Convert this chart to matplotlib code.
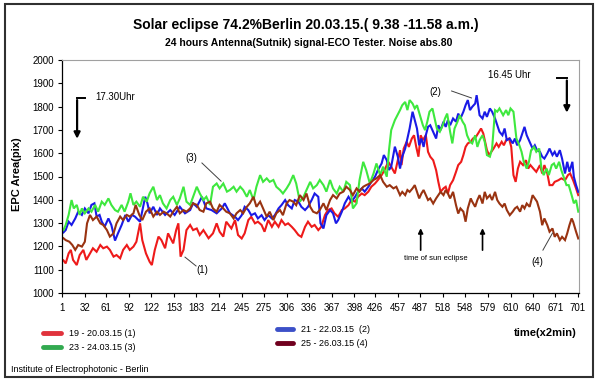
import matplotlib
matplotlib.use('Agg')
import matplotlib.pyplot as plt
from matplotlib.lines import Line2D
from matplotlib.patches import Rectangle

plt.rcParams['font.family'] = ['Liberation Sans', 'DejaVu Sans']

# readings (sample index, EPC area) taken off the original chart
red_pts = [(3, 1140), (6, 1127), (10, 1170), (13, 1185), (16, 1142), (21, 1120), (25, 1163), (30, 1185),
           (34, 1142), (39, 1170), (43, 1192), (48, 1177), (53, 1206), (57, 1192), (62, 1199), (66, 1185),
           (71, 1156), (75, 1163), (80, 1149), (84, 1185), (89, 1206), (93, 1185), (98, 1199), (102, 1220),
           (107, 1299), (110, 1227), (115, 1170), (120, 1134), (123, 1120), (127, 1185), (132, 1242),
           (136, 1227), (141, 1192), (145, 1256), (152, 1213), (156, 1270), (159, 1299), (162, 1156),
           (166, 1185), (170, 1270), (175, 1292), (179, 1270), (184, 1277), (188, 1249), (193, 1270),
           (200, 1235), (206, 1256), (211, 1299), (215, 1263), (220, 1242), (224, 1306), (231, 1277),
           (236, 1313), (240, 1249), (245, 1234), (249, 1256), (254, 1313), (258, 1327), (263, 1299),
           (267, 1306), (272, 1292), (276, 1263), (281, 1313), (286, 1284), (290, 1306), (295, 1284),
           (299, 1313), (304, 1292), (308, 1299), (313, 1284), (317, 1270), (322, 1249), (326, 1241),
           (331, 1284), (335, 1306), (340, 1284), (344, 1292), (349, 1270), (353, 1284), (358, 1334),
           (362, 1356), (367, 1363), (371, 1342), (376, 1327), (381, 1356), (385, 1363), (390, 1377),
           (394, 1399), (399, 1392), (403, 1413), (408, 1427), (412, 1420), (417, 1435), (421, 1456),
           (426, 1470), (430, 1485), (435, 1506), (439, 1528), (444, 1563), (448, 1542), (453, 1513),
           (457, 1570), (460, 1613), (462, 1549), (465, 1620), (469, 1649), (472, 1627), (476, 1663),
           (479, 1677), (482, 1627), (485, 1585), (488, 1677), (491, 1656), (495, 1677), (498, 1606),
           (501, 1585), (505, 1570), (509, 1527), (512, 1477), (515, 1434), (519, 1449), (522, 1456),
           (525, 1427), (528, 1463), (532, 1484), (536, 1520), (539, 1549), (543, 1563), (546, 1592),
           (549, 1627), (552, 1642), (556, 1649), (559, 1663), (563, 1670), (566, 1685), (570, 1706),
           (573, 1685), (576, 1642), (578, 1613), (581, 1592), (584, 1606), (587, 1620), (591, 1642),
           (594, 1627), (598, 1649), (601, 1634), (604, 1656), (608, 1663), (611, 1627), (614, 1506),
           (617, 1477), (620, 1534), (623, 1563), (627, 1549), (631, 1570), (634, 1534), (637, 1549),
           (641, 1534), (645, 1520), (650, 1549), (653, 1513), (656, 1549), (660, 1513), (663, 1463),
           (667, 1463), (670, 1477), (675, 1484), (679, 1492), (684, 1484), (688, 1506), (691, 1513),
           (695, 1484), (699, 1449), (702, 1420)]

blue_pts = [(3, 1260), (6, 1270), (10, 1306), (14, 1292), (19, 1320), (23, 1349), (28, 1335), (32, 1363),
            (37, 1342), (41, 1378), (45, 1385), (48, 1328), (52, 1335), (55, 1306), (59, 1285), (64, 1320),
            (68, 1292), (73, 1225), (77, 1256), (82, 1292), (87, 1335), (91, 1306), (96, 1335), (100, 1328),
            (107, 1306), (114, 1413), (117, 1385), (120, 1342), (125, 1370), (130, 1335), (134, 1363),
            (141, 1335), (148, 1356), (154, 1335), (161, 1370), (168, 1342), (175, 1356), (179, 1385),
            (184, 1370), (191, 1413), (197, 1363), (204, 1356), (211, 1342), (218, 1363), (222, 1385),
            (229, 1342), (236, 1327), (240, 1313), (245, 1334), (249, 1370), (254, 1356), (258, 1334),
            (263, 1342), (267, 1320), (272, 1334), (276, 1313), (281, 1334), (286, 1320), (290, 1334),
            (295, 1363), (299, 1377), (304, 1399), (308, 1377), (313, 1363), (317, 1399), (322, 1392),
            (326, 1370), (331, 1356), (335, 1370), (340, 1399), (344, 1427), (349, 1413), (352, 1299),
            (356, 1277), (360, 1334), (365, 1356), (369, 1342), (373, 1299), (376, 1313), (381, 1349),
            (385, 1385), (390, 1413), (394, 1392), (399, 1413), (403, 1435), (408, 1449), (412, 1435),
            (417, 1456), (421, 1477), (426, 1499), (430, 1528), (435, 1556), (438, 1592), (442, 1570),
            (445, 1528), (448, 1542), (453, 1628), (457, 1585), (460, 1534), (463, 1585), (467, 1620),
            (470, 1663), (473, 1706), (477, 1778), (480, 1742), (483, 1706), (486, 1634), (489, 1663),
            (492, 1627), (495, 1677), (498, 1713), (501, 1720), (505, 1692), (509, 1663), (512, 1720),
            (515, 1699), (519, 1735), (522, 1713), (525, 1742), (528, 1720), (532, 1749), (536, 1735),
            (539, 1770), (542, 1749), (546, 1778), (549, 1806), (552, 1828), (555, 1785), (558, 1799),
            (562, 1813), (564, 1849), (566, 1806), (568, 1763), (572, 1749), (575, 1778), (578, 1756),
            (582, 1792), (585, 1778), (589, 1749), (592, 1720), (595, 1692), (599, 1677), (602, 1706),
            (605, 1656), (609, 1663), (613, 1642), (616, 1663), (619, 1634), (623, 1656), (626, 1685),
            (629, 1713), (632, 1677), (636, 1649), (640, 1620), (643, 1634), (646, 1613), (650, 1606),
            (653, 1585), (656, 1577), (660, 1599), (663, 1620), (667, 1592), (670, 1606), (673, 1585),
            (677, 1613), (680, 1577), (684, 1513), (687, 1563), (690, 1520), (694, 1563), (696, 1499),
            (699, 1463), (702, 1434)]

green_pts = [(3, 1270), (6, 1292), (10, 1335), (14, 1399), (17, 1363), (21, 1378), (25, 1335), (28, 1363),
             (32, 1342), (37, 1363), (41, 1349), (46, 1378), (50, 1349), (55, 1392), (59, 1378), (64, 1406),
             (68, 1378), (73, 1356), (77, 1349), (82, 1378), (86, 1349), (91, 1392), (94, 1428), (98, 1378),
             (102, 1392), (107, 1370), (111, 1413), (116, 1392), (120, 1428), (125, 1456), (130, 1399),
             (134, 1420), (138, 1385), (143, 1363), (148, 1399), (152, 1413), (157, 1378), (161, 1406),
             (166, 1456), (170, 1392), (175, 1378), (179, 1413), (184, 1456), (188, 1428), (193, 1399),
             (197, 1413), (202, 1378), (206, 1456), (211, 1470), (215, 1449), (220, 1470), (225, 1435),
             (229, 1442), (234, 1456), (238, 1435), (243, 1456), (247, 1442), (252, 1413), (256, 1442),
             (261, 1399), (265, 1456), (270, 1506), (274, 1477), (279, 1492), (283, 1477), (288, 1485),
             (292, 1456), (297, 1442), (301, 1427), (306, 1449), (310, 1470), (315, 1506), (319, 1470),
             (324, 1392), (329, 1413), (333, 1442), (338, 1477), (342, 1449), (347, 1463), (351, 1485),
             (356, 1463), (360, 1435), (365, 1485), (369, 1449), (374, 1427), (378, 1456), (383, 1435),
             (387, 1477), (392, 1463), (396, 1363), (401, 1385), (405, 1485), (410, 1563), (414, 1528),
             (419, 1470), (424, 1513), (428, 1556), (433, 1506), (437, 1542), (442, 1499), (445, 1613),
             (448, 1699), (453, 1742), (460, 1785), (463, 1806), (467, 1820), (470, 1785), (473, 1828),
             (477, 1813), (480, 1792), (483, 1806), (487, 1763), (491, 1720), (494, 1699), (497, 1735),
             (500, 1778), (504, 1792), (507, 1749), (510, 1706), (514, 1692), (518, 1720), (521, 1749),
             (524, 1770), (528, 1692), (531, 1642), (534, 1706), (538, 1735), (541, 1763), (545, 1735),
             (548, 1720), (551, 1677), (555, 1649), (558, 1642), (562, 1677), (565, 1627), (568, 1656),
             (572, 1677), (575, 1649), (578, 1592), (582, 1585), (585, 1620), (589, 1785), (592, 1778),
             (595, 1792), (600, 1763), (604, 1785), (607, 1763), (610, 1792), (614, 1778), (616, 1720),
             (618, 1663), (622, 1634), (625, 1606), (628, 1563), (632, 1534), (635, 1563), (638, 1613),
             (642, 1627), (645, 1606), (649, 1620), (652, 1534), (655, 1506), (659, 1534), (662, 1506),
             (666, 1549), (669, 1556), (672, 1534), (676, 1563), (679, 1527), (682, 1499), (686, 1463),
             (689, 1463), (693, 1420), (696, 1385), (699, 1399), (702, 1349)]

brown_pts = [(3, 1235), (6, 1227), (11, 1220), (15, 1206), (19, 1185), (23, 1206), (28, 1199), (32, 1220),
             (35, 1299), (39, 1335), (43, 1313), (48, 1328), (53, 1299), (57, 1292), (62, 1270), (66, 1242),
             (71, 1256), (75, 1299), (80, 1328), (84, 1313), (89, 1335), (93, 1328), (98, 1342), (101, 1378),
             (106, 1335), (110, 1313), (115, 1349), (120, 1363), (125, 1328), (130, 1349), (134, 1335),
             (139, 1349), (143, 1342), (148, 1328), (152, 1349), (157, 1370), (161, 1342), (166, 1356),
             (170, 1349), (175, 1363), (179, 1385), (184, 1378), (188, 1356), (193, 1349), (197, 1385),
             (202, 1392), (206, 1363), (211, 1349), (215, 1378), (220, 1363), (224, 1349), (229, 1342),
             (234, 1320), (238, 1342), (243, 1356), (247, 1342), (252, 1370), (256, 1385), (261, 1413),
             (265, 1370), (270, 1392), (274, 1363), (279, 1327), (283, 1349), (288, 1313), (292, 1342),
             (297, 1356), (301, 1334), (306, 1385), (310, 1399), (315, 1392), (319, 1377), (324, 1420),
             (329, 1399), (333, 1427), (338, 1370), (342, 1349), (347, 1342), (351, 1356), (356, 1385),
             (360, 1356), (365, 1399), (369, 1420), (374, 1406), (378, 1427), (383, 1435), (387, 1456),
             (392, 1442), (396, 1420), (401, 1449), (405, 1435), (410, 1456), (414, 1463), (419, 1470),
             (424, 1485), (428, 1492), (433, 1506), (437, 1477), (442, 1456), (446, 1463), (451, 1449),
             (455, 1456), (460, 1420), (463, 1434), (467, 1420), (470, 1442), (473, 1434), (477, 1449),
             (480, 1463), (483, 1434), (486, 1406), (489, 1427), (492, 1442), (495, 1420), (498, 1399),
             (501, 1406), (505, 1384), (509, 1406), (512, 1420), (515, 1434), (519, 1420), (522, 1442),
             (525, 1427), (528, 1406), (532, 1434), (536, 1377), (539, 1341), (542, 1363), (546, 1349),
             (549, 1306), (552, 1363), (556, 1406), (558, 1392), (562, 1370), (565, 1399), (568, 1420),
             (572, 1384), (575, 1434), (578, 1406), (582, 1420), (585, 1399), (589, 1434), (592, 1399),
             (595, 1384), (599, 1370), (602, 1384), (605, 1356), (609, 1334), (613, 1349), (616, 1363),
             (619, 1370), (623, 1349), (626, 1377), (629, 1363), (632, 1384), (636, 1370), (640, 1420),
             (643, 1406), (646, 1392), (650, 1349), (653, 1291), (656, 1320), (660, 1291), (663, 1263),
             (667, 1277), (670, 1241), (673, 1256), (677, 1227), (680, 1241), (684, 1227), (687, 1256),
             (690, 1291), (693, 1320), (695, 1306), (699, 1263), (702, 1234)]

series_labels = ['19 - 20.03.15 (1)', '21 - 22.03.15  (2)', '23 - 24.03.15 (3)', '25 - 26.03.15 (4)']
line_colors = ['#ee1a1a', '#1a1ae6', '#3ee83e', '#993311']
legend_colors = ['#e0323c', '#3c50c8', '#32aa50', '#70001e']
xtick_labels = ['1', '32', '61', '92', '122', '153', '183', '214', '245', '275', '306', '336',
                '367', '398', '426', '457', '487', '518', '548', '579', '610', '640', '671', '701']

fig = plt.figure(figsize=(6.0, 3.86), dpi=100)
ax = fig.add_axes([62 / 600, 93 / 386, 517 / 600, 233 / 386])

# Excel draws series in order, later ones on top
for pts, col in zip([red_pts, blue_pts, green_pts, brown_pts], line_colors):
    xs = [p[0] for p in pts]
    ys = [p[1] for p in pts]
    ax.plot(xs, ys, color=col, lw=1.5, solid_joinstyle='miter')

ax.set_xlim(1, 703)
ax.set_ylim(1000, 2000)
ax.set_yticks(range(1000, 2001, 100))
ax.set_xticks([int(t) for t in xtick_labels])
ax.set_xticklabels(xtick_labels)
ax.tick_params(axis='both', labelsize=7, length=3, width=0.8, direction='out')
ax.tick_params(axis='x', pad=4)
ax.tick_params(axis='y', pad=3)
for s in ['top', 'right']:
    ax.spines[s].set_color('#a0a0a0')
for s in ['left', 'bottom']:
    ax.spines[s].set_color('#000000')
    ax.spines[s].set_linewidth(0.9)

ax.set_ylabel('EPC Area(pix)', fontsize=8, fontweight='bold')
ax.yaxis.set_label_coords(-0.077, 0.51)

# annotations
ax.text(46, 1841, '17.30Uhr', fontsize=7, va='center', ha='left')
ax.plot([32, 21.5], [1838, 1838], color='black', lw=1.4)
ax.annotate('', xy=(21.5, 1650), xytext=(21.5, 1840),
            arrowprops=dict(arrowstyle='-|>', color='black', lw=1.6, mutation_scale=9))

ax.text(579, 1935, '16.45 Uhr', fontsize=7, va='center', ha='left')
ax.plot([673, 686.5], [1922, 1922], color='black', lw=1.4)
ax.annotate('', xy=(686.5, 1762), xytext=(686.5, 1924),
            arrowprops=dict(arrowstyle='-|>', color='black', lw=1.6, mutation_scale=9))

ax.text(177, 1579, '(3)', fontsize=7, ha='center', va='center')
ax.plot([191, 217], [1558, 1480], color='#404040', lw=0.7)
ax.text(192, 1099, '(1)', fontsize=7, ha='center', va='center')
ax.plot([183, 168], [1116, 1154], color='#404040', lw=0.7)
ax.text(508, 1862, '(2)', fontsize=7, ha='center', va='center')
ax.plot([530, 557], [1867, 1837], color='#404040', lw=0.7)
ax.text(646, 1133, '(4)', fontsize=7, ha='center', va='center')
ax.plot([654, 667], [1184, 1257], color='#404040', lw=0.7)

ax.text(508, 1146, 'time of sun eclipse', fontsize=5.5, ha='center', va='center')
for xe in [488, 572]:
    ax.annotate('', xy=(xe, 1290), xytext=(xe, 1172),
                arrowprops=dict(arrowstyle='-|>', color='black', lw=1.2, mutation_scale=7))

# titles
fig.text(306 / 600, 1 - 25 / 386, 'Solar eclipse 74.2%Berlin 20.03.15.( 9.38 -11.58 a.m.)',
         fontsize=10, fontweight='bold', ha='center', va='center')
fig.text(309 / 600, 1 - 43 / 386, '24 hours Antenna(Sutnik) signal-ECO Tester. Noise abs.80',
         fontsize=7.5, fontweight='bold', ha='center', va='center')

# legend drawn by hand in two columns
legend_pos = [(43, 61, 333, 69), (277, 293, 329, 301), (43, 61, 347, 69), (277, 293, 343, 301)]
for (x0, x1, y, xt), lab, col in zip(legend_pos, series_labels, legend_colors):
    fig.add_artist(Line2D([x0 / 600, x1 / 600], [1 - y / 386, 1 - y / 386], color=col, lw=3.5,
                          solid_capstyle='round', transform=fig.transFigure))
    fig.text(xt / 600, 1 - y / 386, lab, fontsize=6.5, va='center', ha='left')

fig.text(577 / 600, 1 - 333 / 386, 'time(x2min)', fontsize=8, fontweight='bold', ha='right', va='center')
fig.text(11 / 600, 1 - 369 / 386, 'Institute of Electrophotonic - Berlin', fontsize=6.5, ha='left',
         va='center')

# outer frame
fig.add_artist(Rectangle((4.5 / 600, 1 - 377 / 386), 588 / 600, 373 / 386, fill=False,
                         edgecolor='#303030', lw=1.5, transform=fig.transFigure))

fig.savefig('out.png', dpi=100)
